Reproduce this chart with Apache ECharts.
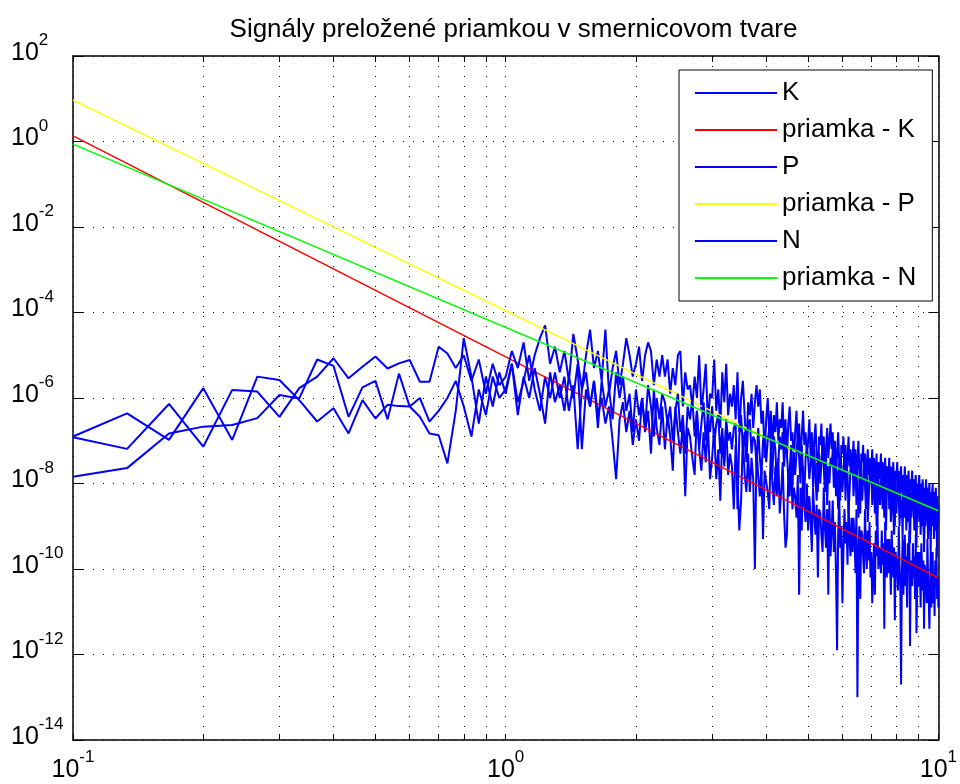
<!DOCTYPE html>
<html><head><meta charset="utf-8">
<script src="https://cdn.jsdelivr.net/npm/echarts@6/dist/echarts.min.js"></script>
<style>html,body{margin:0;padding:0;background:#fff}#c{width:960px;height:784px}</style>
</head><body><div id="c"></div>
<script>
const titleText = 'Signály preložené priamkou v smernicovom tvare';
const seriesNames = ['K', 'priamka - K', 'P', 'priamka - P', 'N', 'priamka - N'];
// spectrum bins: frequency = bin / 30 Hz, bins 3..300 (0.1 Hz .. 10 Hz)
const firstBin = 3, binsPerHz = 30;

// log10 of the amplitudes, one value per bin
const K_log10 = [
-6.90,-6.36,-6.98,-5.77,-6.98,-5.50,-5.58,-6.05,-6.55,-6.24,-6.83,-6.05,-6.48,-6.16,-6.19,-6.20,-6.44,-6.83,-6.87,-7.53,-6.3,-4.6,-5.5,-6.6,-5.5,-6.2,-5.4,
-5.9,-5.2,-6.1,-5.6,-5.0,-5.8,-6.3,-5.5,-6.0,-5.4,
-6.0,-5.5,-6.3,-5.7,-7.2,-5.8,-5.4,-6.2,-5.6,-6.4,
-6.0,-6.6,-6.2,-7.0,-7.9,-6.5,-6.1,-6.8,-6.3,-7.1,
-6.5,-7.0,-6.0,-6.8,-6.3,-7.3,-5.8,-6.7,-7.1,-6.2,
-7.2,-6.4,-6.9,-7.7,-6.2,-6.8,-7.3,-6.6,-8.3,-6.7,
-6.9,-7.4,-7.8,-6.3,-7.2,-7.7,-6.8,-7.5,-6.6,-7.9,
-7.4,-6.7,-7.9,-7.2,-8.4,-6.9,-7.5,-6.6,-7.8,-7.3,
-7.6,-8.6,-7.1,-7.9,-9.1,-8.4,-6.9,-7.8,-8.2,-7.3,
-8.2,-7.4,-7.9,-10.0,-7.2,-7.8,-8.3,-7.6,-9.3,-7.7,
-7.7,-8.2,-8.6,-7.1,-8.0,-8.5,-7.6,-8.3,-7.4,-8.7,
-8.2,-7.5,-8.7,-9.5,-9.2,-7.7,-8.3,-7.4,-8.6,-8.1,
-8.3,-8.8,-7.8,-10.6,-8.1,-9.1,-7.6,-8.5,-8.9,-8.0,
-9.1,-8.3,-8.8,-9.6,-8.1,-8.7,-9.2,-8.5,-10.2,-8.6,
-8.7,-9.2,-9.6,-8.1,-9.0,-9.5,-8.6,-10.6,-8.4,-9.7,
-9.1,-8.4,-9.6,-8.9,-10.1,-11.9,-9.2,-8.3,-9.5,-9.0,
-10.8,-9.6,-8.6,-9.4,-8.9,-9.9,-8.4,-9.3,-9.7,-8.8,
-9.6,-8.8,-9.3,-10.1,-8.6,-13.0,-9.7,-9.0,-10.7,-9.1,
-9.2,-9.7,-10.1,-8.6,-9.5,-10.0,-9.1,-9.8,-8.9,-10.2,
-9.6,-10.8,-10.1,-9.4,-10.6,-9.1,-9.7,-8.8,-10.0,-9.5,
-9.6,-10.1,-9.1,-9.9,-9.4,-11.4,-8.9,-9.8,-10.2,-9.3,
-10.1,-9.3,-9.8,-10.6,-9.1,-9.7,-10.2,-9.5,-11.2,-9.6,
-9.6,-10.1,-10.5,-9.0,-9.9,-10.4,-12.7,-10.2,-9.3,-10.6,
-9.9,-9.2,-10.4,-9.7,-10.9,-9.4,-10.0,-9.1,-11.8,-9.8,
-9.9,-10.4,-9.4,-10.2,-9.7,-10.7,-9.2,-11.5,-10.5,-9.6,
-10.4,-9.6,-10.1,-10.9,-9.4,-10.0,-10.5,-9.8,-11.4,-9.9,
-9.9,-10.4,-10.8,-9.3,-10.2,-10.7,-11.4,-10.5,-9.6,-10.9,
-10.3,-9.6,-10.8,-10.1,-11.1,-9.8,-10.4,-9.5,-10.7,-10.2,-10.9
];
const P_log10 = [
-6.92,-7.19,-6.14,-7.14,-5.81,-5.85,-6.44,-5.77,-5.50,-5.07,-5.54,-5.27,-5.03,-5.31,-5.19,-5.11,-5.62,-5.62,-4.80,-4.96,-5.3,-5.0,-5.6,-5.1,-5.9,-5.2,-5.7,
-5.5,-4.9,-5.3,-4.7,-5.6,-5.0,-4.6,-4.3,-5.2,-4.8,
-5.4,-4.9,-5.6,-4.5,-5.1,-5.8,-5.0,-4.4,-5.3,-4.9,
-5.6,-4.4,-5.9,-5.3,-4.9,-5.7,-5.2,-4.6,-5.0,-5.5,
-5.2,-4.8,-5.6,-5.0,-4.7,-4.9,-5.7,-5.1,-5.5,-5.0,
-5.5,-5.1,-5.9,-5.3,-5.7,-5.0,-4.9,-6.2,-5.4,-5.8,
-5.7,-6.2,-5.5,-6.0,-5.0,-6.3,-5.8,-5.2,-6.6,-5.9,
-6.0,-5.1,-6.3,-5.8,-6.7,-5.4,-6.1,-5.2,-6.4,-5.9,
-6.2,-5.7,-6.5,-5.4,-6.8,-6.0,-5.6,-6.4,-7.2,-6.1,
-6.4,-5.9,-6.7,-6.1,-5.7,-6.2,-5.8,-6.6,-6.3,-7.4,
-6.5,-6.0,-6.9,-6.3,-7.2,-6.4,-6.8,-6.1,-7.0,-6.5,
-6.7,-6.1,-7.1,-6.5,-7.4,-6.6,-6.2,-7.0,-6.8,-7.6,
-6.8,-6.3,-7.2,-6.6,-7.5,-6.9,-6.3,-7.1,-6.8,-7.4,
-7.0,-6.5,-7.4,-6.8,-7.7,-7.0,-6.6,-7.3,-8.2,-6.9,
-7.1,-6.6,-7.5,-6.9,-7.8,-7.2,-6.7,-7.4,-7.0,-6.6,
-7.2,-6.8,-7.6,-7.0,-7.9,-7.3,-6.8,-7.5,-8.4,-7.1,
-7.3,-6.9,-7.7,-7.1,-8.0,-7.4,-6.9,-7.6,-7.2,-7.8,
-7.4,-7.0,-7.8,-7.2,-8.1,-7.5,-7.0,-7.7,-8.7,-7.3,
-7.5,-7.1,-7.9,-7.3,-8.2,-7.6,-7.2,-7.8,-7.4,-8.0,
-7.6,-7.2,-8.0,-7.4,-8.3,-7.7,-7.3,-8.8,-7.5,-7.9,
-7.7,-7.3,-8.1,-7.5,-8.4,-7.8,-7.4,-8.0,-7.6,-8.2,
-7.8,-7.4,-8.2,-7.6,-8.5,-7.9,-7.5,-8.1,-9.0,-7.7,
-7.9,-7.5,-8.3,-7.7,-8.6,-8.0,-7.6,-8.2,-7.8,-8.4,
-8.0,-7.6,-8.4,-7.8,-8.7,-8.1,-7.7,-8.3,-9.2,-7.9,
-8.0,-7.7,-8.4,-7.9,-8.8,-8.1,-7.8,-8.4,-8.0,-8.6,
-8.1,-7.8,-8.5,-8.0,-8.9,-8.2,-7.9,-8.5,-9.4,-8.1,
-8.2,-7.9,-8.6,-8.1,-9.0,-8.3,-8.0,-8.6,-8.2,-8.8,
-8.3,-8.0,-8.7,-8.2,-9.1,-8.4,-8.1,-8.7,-8.3,-8.9,-8.5
];
const N_log10 = [
-7.84,-7.64,-6.83,-6.67,-6.63,-6.47,-5.93,-6.01,-5.10,-5.25,-6.44,-5.75,-5.60,-6.50,-5.43,-6.20,-6.00,-6.55,-6.30,-6.00,-5.6,-6.2,-6.9,-5.8,-6.4,-5.5,-6.0,
-5.8,-5.2,-6.4,-5.5,-6.0,-5.3,-5.9,-6.6,-5.4,-6.1,
-5.7,-6.3,-5.5,-6.0,-5.2,-7.2,-5.8,-6.2,-5.6,-6.7,
-5.6,-6.2,-5.8,-6.5,-5.4,-6.0,-5.5,-6.3,-5.9,-6.8,
-5.8,-6.4,-6.0,-6.7,-5.7,-6.2,-6.9,-6.0,-6.5,-5.9,
-6.1,-6.6,-6.2,-7.0,-6.3,-5.9,-6.8,-6.4,-7.3,-6.2,
-6.5,-6.0,-6.9,-6.3,-7.2,-6.6,-6.1,-7.0,-6.4,-6.8,
-6.2,-7.1,-6.6,-6.4,-7.3,-6.7,-7.6,-6.5,-7.0,-6.8,
-7.2,-6.7,-6.6,-8.6,-6.9,-6.4,-7.2,-6.8,-7.5,-6.6,
-6.5,-7.3,-6.9,-7.0,-7.6,-6.7,-7.4,-7.8,-7.0,-6.8,
-7.5,-7.0,-6.7,-7.1,-7.8,-6.9,-7.2,-8.0,-7.5,-6.9,
-7.2,-6.8,-7.6,-7.0,-7.3,-7.9,-7.7,-7.1,-8.1,-7.3,
-7.8,-7.3,-6.9,-7.4,-8.0,-7.1,-7.8,-8.3,-7.4,-7.2,
-7.4,-7.9,-7.5,-7.0,-8.1,-7.2,-7.9,-8.4,-7.5,-7.3,
-8.0,-7.5,-7.1,-7.6,-8.2,-7.3,-8.5,-7.6,-8.0,-7.4,
-7.6,-7.2,-8.1,-7.4,-8.3,-7.7,-8.6,-7.5,-8.1,-7.7,
-8.2,-7.7,-7.3,-8.4,-7.5,-7.8,-8.7,-8.2,-7.6,-7.8,
-7.4,-8.3,-7.8,-7.6,-8.5,-7.9,-8.8,-8.3,-7.7,-7.9,
-8.4,-7.9,-7.5,-8.0,-8.6,-7.7,-8.9,-8.4,-7.8,-8.0,
-7.6,-8.5,-8.0,-7.8,-8.7,-8.1,-9.0,-8.5,-7.9,-8.1,
-8.5,-8.0,-7.7,-8.6,-8.1,-8.8,-7.9,-9.1,-8.2,-8.0,
-7.8,-8.6,-8.1,-8.9,-8.2,-8.0,-8.7,-9.2,-8.3,-8.1,
-8.7,-8.2,-7.8,-8.3,-9.0,-8.0,-8.8,-8.4,-9.3,-8.1,
-7.9,-8.8,-8.3,-9.1,-8.4,-8.1,-8.9,-8.5,-9.4,-8.2,
-8.8,-8.3,-8.0,-8.5,-9.1,-8.2,-8.9,-9.5,-8.5,-8.3,
-8.1,-8.9,-8.4,-9.2,-8.5,-8.3,-9.0,-8.6,-9.6,-8.4,
-9.0,-8.5,-8.1,-8.6,-9.3,-8.3,-9.1,-8.7,-9.6,-8.4,
-8.2,-9.0,-8.5,-9.3,-8.7,-8.4,-9.1,-8.8,-9.7,-8.5,-8.9
];

// fitted straight lines (values at x = 0.1 and x = 10)
const fitX = [0.1, 10];
const fitK = [1.35, 6.2e-11];
const fitP = [9.3, 1.3e-9];
const fitN = [0.87, 2.3e-9];

// axis ticks
const xTicks = [0.1,0.2,0.3,0.4,0.5,0.6,0.7,0.8,0.9,1,2,3,4,5,6,7,8,9,10];
const xLabelValues = [0.1, 1, 10];
const yTicks = [1e-14,1e-12,1e-10,1e-8,1e-6,1e-4,1e-2,1,1e2];

const FONT = '"Liberation Sans", Arial, Helvetica, sans-serif';

function spectrum(arr) {
  return arr.map((v, i) => [(i + firstBin) / binsPerHz, Math.pow(10, v)]);
}
function line(xs, ys) { return xs.map((x, i) => [x, ys[i]]); }

const expFmt = v => '{b|10}{e|' + Math.round(Math.log10(v)) + '}';
const richTxt = {
  b: { fontSize: 25, lineHeight: 42, fontFamily: FONT, color: '#000' },
  e: { fontSize: 17, lineHeight: 17, verticalAlign: 'top', fontFamily: FONT, color: '#000' }
};
const gridLine = { show: true, lineStyle: { color: '#000', width: 1, type: [1, 9] } };

const chart = echarts.init(document.getElementById('c'), null, { renderer: 'canvas' });
chart.setOption({
  animation: false,
  backgroundColor: '#fff',
  title: {
    text: titleText, left: 508.5, textAlign: 'center', top: 12,
    textStyle: { fontSize: 26, fontWeight: 'normal', fontFamily: FONT, color: '#000' }
  },
  legend: {
    orient: 'vertical', left: 679, top: 70,
    itemWidth: 82, itemHeight: 2, itemGap: 11, icon: 'rect',
    padding: [10, 16, 10, 16],
    backgroundColor: '#fff', borderColor: '#000', borderWidth: 1,
    selectedMode: false,
    textStyle: { fontSize: 26, lineHeight: 26, color: '#000', fontFamily: FONT },
    data: seriesNames
  },
  grid: { left: 73, right: 16, top: 56, bottom: 44, containLabel: false },
  xAxis: [{
    type: 'log', logBase: 10, min: 0.1, max: 10, position: 'bottom',
    axisLine: { show: true, lineStyle: { color: '#000', width: 1.5 } },
    axisTick: { show: true, inside: true, length: 6, customValues: xTicks, lineStyle: { color: '#000' } },
    axisLabel: { show: true, customValues: xLabelValues, margin: 9, formatter: expFmt, rich: richTxt },
    splitLine: gridLine
  }, {
    type: 'log', logBase: 10, min: 0.1, max: 10, position: 'top',
    axisLine: { show: true, lineStyle: { color: '#000', width: 1.5 } },
    axisTick: { show: true, inside: true, length: 6, customValues: xTicks, lineStyle: { color: '#000' } },
    axisLabel: { show: false }, splitLine: { show: false }
  }],
  yAxis: [{
    type: 'log', logBase: 10, min: 1e-14, max: 1e2, position: 'left',
    axisLine: { show: true, lineStyle: { color: '#000', width: 1.5 } },
    axisTick: { show: true, inside: true, length: 10, customValues: yTicks, lineStyle: { color: '#000' } },
    axisLabel: { show: true, customValues: yTicks, align: 'left', margin: 62, padding: [0, 0, 6, 0], formatter: expFmt, rich: richTxt },
    splitLine: gridLine
  }, {
    type: 'log', logBase: 10, min: 1e-14, max: 1e2, position: 'right',
    axisLine: { show: true, lineStyle: { color: '#000', width: 1.5 } },
    axisTick: { show: true, inside: true, length: 10, customValues: yTicks, lineStyle: { color: '#000' } },
    axisLabel: { show: false }, splitLine: { show: false }
  }],
  series: [
    { name: 'K', type: 'line', data: spectrum(K_log10), color: '#0000ff', w: 2 },
    { name: 'priamka - K', type: 'line', data: line(fitX, fitK), color: '#ff0000', w: 1.5 },
    { name: 'P', type: 'line', data: spectrum(P_log10), color: '#0000ff', w: 2 },
    { name: 'priamka - P', type: 'line', data: line(fitX, fitP), color: '#ffff00', w: 1.5 },
    { name: 'N', type: 'line', data: spectrum(N_log10), color: '#0000ff', w: 2 },
    { name: 'priamka - N', type: 'line', data: line(fitX, fitN), color: '#00ff00', w: 1.5 }
  ].map(s => {
    const out = Object.assign({}, s, {
      xAxisIndex: 0, yAxisIndex: 0, symbol: 'none', showSymbol: false, clip: true,
      lineStyle: { width: s.w, color: s.color }, itemStyle: { color: s.color },
      emphasis: { disabled: true }
    });
    delete out.w;
    return out;
  })
});
</script>
</body></html>
